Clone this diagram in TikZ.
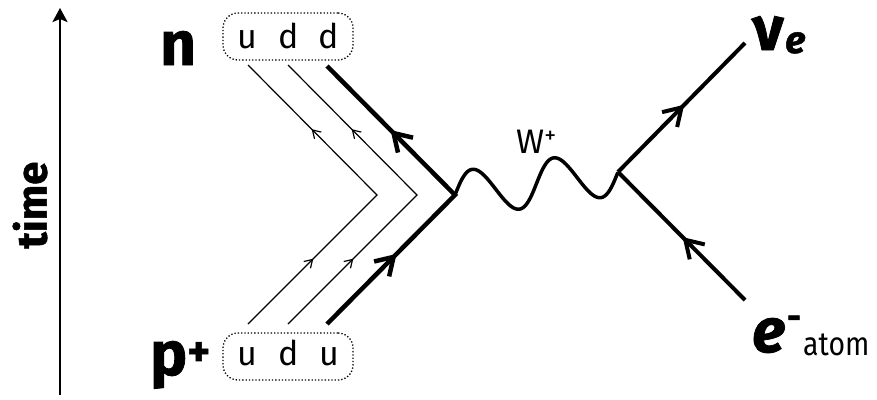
\documentclass[tikz,border=0pt]{standalone}
\usepackage{fontspec}
\setmainfont{Fira Sans}
\newfontfamily\heavyfont{Fira Sans}[FakeBold=1.2]
\usetikzlibrary{arrows.meta,calc}
% open V arrowhead at fraction #3 of the way from #1 to #2; arm length #4; style #5
\newcommand{\qarrowhead}[5]{%
  \coordinate (qtip) at ($(#1)!#3!(#2)$);
  \draw[#5, line cap=butt, line join=miter] ($(qtip)!#4!32:(#1)$) -- (qtip) -- ($(qtip)!#4!-32:(#1)$);}
\begin{document}
\begin{tikzpicture}[x=1pt,y=-1pt,
  lbl/.style={inner sep=0pt, anchor=base west},
  big/.style={lbl, font=\fontsize{62}{64}\selectfont\heavyfont\bfseries},
  quarkletter/.style={inner sep=0pt, anchor=base, font=\fontsize{34}{36}\selectfont},
  qbox/.style={draw, dotted, line width=1.3pt, rounded corners=15pt, minimum width=130pt, minimum height=47pt, inner sep=0pt},
  thinq/.style={line width=1.2pt},
  thickq/.style={line width=4.5pt},
  boson/.style={line width=3.5pt, line join=round}
]
\useasboundingbox (0,0) rectangle (877,399);

% time axis
\coordinate (tb) at (60,395);
\coordinate (tt) at (60,8);
\draw[line width=2.5pt, -{Stealth[length=14pt,width=15pt,inset=3pt]}] (tb) -- (tt);
\node[rotate=90, inner sep=0pt, font=\fontsize{42}{44}\selectfont\heavyfont\bfseries] (time) at (30,205) {time};

% hadron labels
\node[big] (nlab) at (160,65) {n};
\node[big] (plab) at (150,375) {p\textsuperscript{+}};

% quark boxes
\node[qbox] (nbox) at (288,36.5) {};
\node[qbox] (pbox) at (288,356.5) {};
\node[quarkletter] (n1) at (247,48) {u};
\node[quarkletter] (n2) at (289,48) {d};
\node[quarkletter] (n3) at (329,48) {d};
\node[quarkletter] (p1) at (247,365) {u};
\node[quarkletter] (p2) at (289,365) {d};
\node[quarkletter] (p3) at (329,365) {u};

% quark lines
\coordinate (q1b) at (248,324);
\coordinate (q1a) at (377,195);
\coordinate (q1t) at (248,65);
\coordinate (q2b) at (288,324);
\coordinate (q2a) at (417,195);
\coordinate (q2t) at (288,65);
\coordinate (q3b) at (327,324);
\coordinate (v1) at (455,195);
\coordinate (q3t) at (327,66);
\draw[thinq] (q1b) -- (q1a) -- (q1t);
\draw[thinq] (q2b) -- (q2a) -- (q2t);
\qarrowhead{q1b}{q1a}{0.5}{9pt}{thinq}
\qarrowhead{q1a}{q1t}{0.5}{9pt}{thinq}
\qarrowhead{q2b}{q2a}{0.5}{9pt}{thinq}
\qarrowhead{q2a}{q2t}{0.5}{9pt}{thinq}
\draw[thickq] (q3b) -- (v1) -- (q3t);
\qarrowhead{q3b}{v1}{0.52}{20pt}{thickq}
\qarrowhead{v1}{q3t}{0.48}{20pt}{thickq}

% W boson
\coordinate (v2) at (618,172);
\draw[boson] plot[domain=0:1, samples=120, smooth]
  ({455+163*\x-0.1397*23*sin(720*\x)}, {195-23*\x-0.990*23*sin(720*\x)});
\node[lbl, font=\fontsize{34}{36}\selectfont] (wlab) at (516,153) {W\textsuperscript{+}};

% leptons
\coordinate (nuend) at (745,43);
\coordinate (eend) at (745,300);
\draw[thickq, line width=4pt] (v2) -- (nuend);
\draw[thickq, line width=4pt] (eend) -- (v2);
\qarrowhead{v2}{nuend}{0.5}{20pt}{thickq, line width=4pt}
\qarrowhead{eend}{v2}{0.47}{20pt}{thickq, line width=4pt}
\node[big] (nulab) at (752,50) {ν};
\node[lbl, font=\fontsize{38}{40}\selectfont\heavyfont\bfseries\itshape] (nusub) at (785,53) {e};
\node[big, font=\fontsize{62}{64}\selectfont\heavyfont\bfseries\itshape] (elab) at (752,352) {e};
\node[inner sep=0pt, font=\fontsize{34}{36}\selectfont\heavyfont\bfseries] (eminus) at (794,322) {-};
\node[lbl, font=\fontsize{33}{35}\selectfont] (atom) at (803,355) {\scalebox{0.86}[1]{atom}};
\end{tikzpicture}
\end{document}
